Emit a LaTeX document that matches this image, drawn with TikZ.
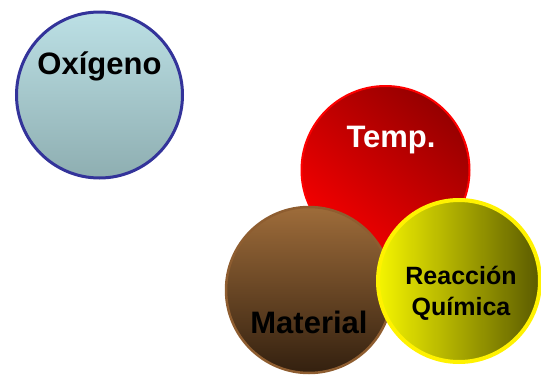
\documentclass[tikz,border=0pt]{standalone}
\usepackage{fontspec}
\setmainfont{Liberation Sans}
\begin{document}
\begin{tikzpicture}[x=1pt,y=-1pt,
  lbl/.style={font=\bfseries, align=center, inner sep=0pt}]
\useasboundingbox (0,0) rectangle (541,375);
\definecolor{oxtop}{HTML}{BCE0E5}
\definecolor{oxbot}{HTML}{8EAEB1}
\definecolor{oxline}{HTML}{33339A}
\definecolor{tdark}{HTML}{960000}
\definecolor{tbright}{HTML}{F50000}
\definecolor{mtop}{HTML}{9E6C3A}
\definecolor{mbot}{HTML}{33200F}
\definecolor{mline}{HTML}{8E5D30}
\definecolor{rleft}{HTML}{F5F500}
\definecolor{rright}{HTML}{5A5A00}
% Oxigeno
\shade[top color=oxtop, bottom color=oxbot] (99.5,95) circle (83);
\draw[oxline, line width=3pt] (99.5,95) circle (83);
\node[lbl, font=\fontsize{31}{31}\bfseries] (ox) at (99.5,66) {Oxígeno};
% Temp
\shade[shading=axis, top color=tdark, bottom color=tbright, shading angle=-40] (385.5,170) circle (84);
\draw[red, line width=2pt] (385.5,170) circle (84);
\node[lbl, text=white, font=\fontsize{31}{31}\bfseries] (temp) at (391,140) {Temp.};
% Material
\shade[top color=mtop, bottom color=mbot] (309,290) circle (83);
\draw[mline, line width=2.5pt] (309,290) circle (83);
\node[lbl, font=\fontsize{31}{31}\bfseries] (mat) at (309,322) {Material};
% Reaccion
\shade[left color=rleft, right color=rright] (459,281) circle (81);
\draw[yellow, line width=4pt] (459,281) circle (81);
\node[lbl, font=\fontsize{25}{31}\bfseries] (rq) at (461,293) {Reacción\\Química};
\end{tikzpicture}
\end{document}
